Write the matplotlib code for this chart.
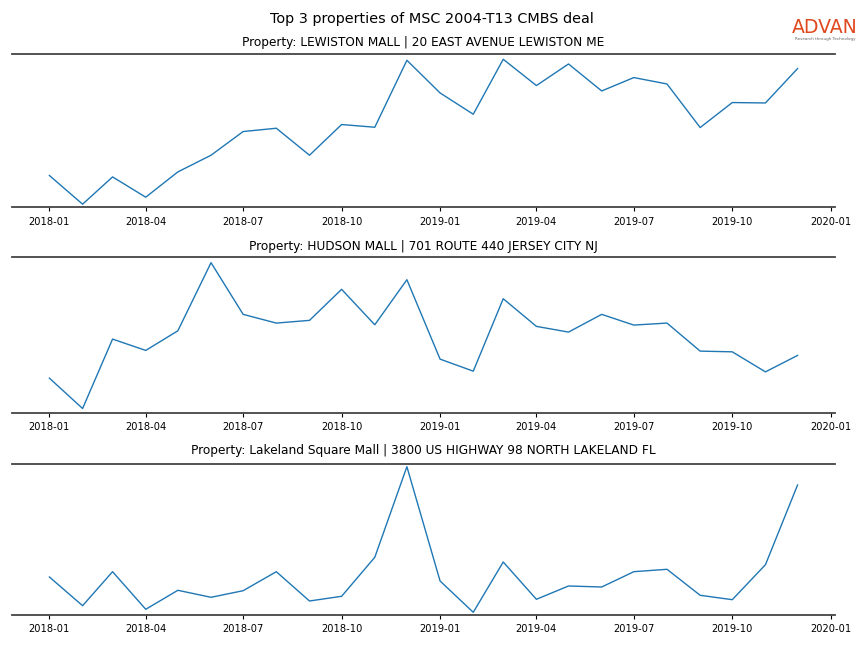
import matplotlib
matplotlib.use("Agg")
import matplotlib.pyplot as plt
import matplotlib.dates as mdates
import pandas as pd

months = pd.date_range("2018-01-01", "2019-12-01", freq="MS")

titles = [
    "Property: LEWISTON MALL | 20 EAST AVENUE LEWISTON ME",
    "Property: HUDSON MALL | 701 ROUTE 440 JERSEY CITY NJ",
    "Property: Lakeland Square Mall | 3800 US HIGHWAY 98 NORTH LAKELAND FL",
]

lewiston = [327, 40, 313, 110, 363, 530, 767, 800, 530, 837, 810, 1480,
            1153, 940, 1490, 1227, 1443, 1173, 1307, 1243, 807, 1057, 1053, 1397]
hudson = [350, 47, 740, 627, 823, 1503, 987, 900, 927, 1237, 883, 1333,
          540, 420, 1143, 867, 810, 987, 880, 900, 620, 613, 413, 577]
lakeland = [380, 93, 433, 57, 247, 177, 243, 433, 140, 187, 577, 1483,
            340, 27, 530, 157, 290, 280, 433, 457, 197, 153, 503, 1300]

series = [lewiston, hudson, lakeland]
ylims = [(7, 1543), (7, 1563), (3, 1513)]

fig = plt.figure(figsize=(8.64, 6.48), dpi=100)
positions = [
    (0.0139, 0.6798, 0.9525, 0.2369),
    (0.0139, 0.3634, 0.9525, 0.2405),
    (0.0139, 0.0514, 0.9525, 0.2330),
]
pads = [6, 5, 7]

for pos, vals, title, yl, pad in zip(positions, series, titles, ylims, pads):
    ax = fig.add_axes(pos)
    ax.plot(months, vals, color="#1f77b4", lw=1.0)
    ax.set_ylim(*yl)
    ax.set_title(title, fontsize=8.75, pad=pad)
    for s in ("left", "right"):
        ax.spines[s].set_visible(False)
    for s in ("top", "bottom"):
        ax.spines[s].set_color("#444444")
        ax.spines[s].set_linewidth(1.3)
    ax.set_yticks([])
    ax.xaxis.set_major_locator(mdates.MonthLocator(bymonth=[1, 4, 7, 10]))
    ax.xaxis.set_major_formatter(mdates.DateFormatter("%Y-%m"))
    ax.tick_params(axis="x", labelsize=7.1, length=3, width=0.8)

fig.suptitle("Top 3 properties of MSC 2004-T13 CMBS deal", fontsize=10.4, y=0.981)

fig.text(0.955, 0.957, "ADVAN", color="#E0481E", fontsize=13.6,
         ha="center", va="center")
fig.text(0.955, 0.940, "Research through Technology", color="#666666",
         fontsize=3, ha="center", va="center")

fig.savefig("out.png", dpi=100)
